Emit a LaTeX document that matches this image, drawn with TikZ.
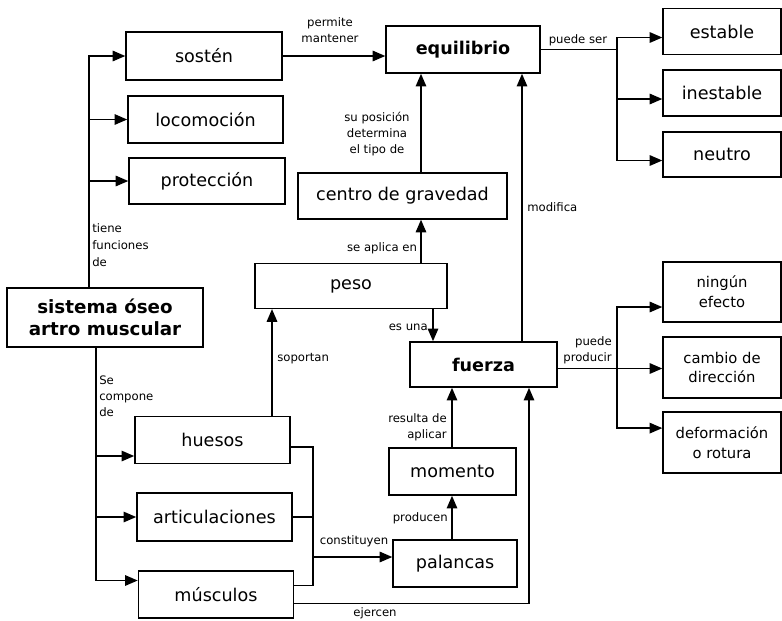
\documentclass[tikz,border=0pt]{standalone}
\usepackage{fontspec}
\setmainfont{DejaVu Sans}
\usetikzlibrary{arrows.meta, positioning}

\begin{document}
\begin{tikzpicture}[x=0.025cm, y=-0.025cm,
  box/.style={draw, line width=1pt, inner sep=0pt, align=center, font=\fontsize{12.5}{15}\selectfont},
  keybox/.style={box, font=\fontsize{12.5}{16}\selectfont\bfseries},
  smallbox/.style={box, font=\fontsize{10.5}{14}\selectfont},
  lbl/.style={font=\fontsize{8.3}{11.5}\selectfont, inner sep=0pt},
  arr/.style={-{Triangle[length=9pt, width=7.5pt]}, line width=1pt},
  link/.style={line width=1pt}]
  \useasboundingbox (0,0) rectangle (782,620);

  % Main concept
  \node[keybox, minimum width=4.9cm, minimum height=1.48cm, font=\fontsize{13}{16}\selectfont\bfseries] (sistema) at (105, 317.5) {sistema óseo\\artro muscular};

  % Functions
  \node[box, minimum width=3.9cm, minimum height=1.2cm] (sosten) at (204, 56) {sostén};
  \node[box, minimum width=3.88cm, minimum height=1.18cm] (locomocion) at (205.5, 119.5) {locomoción};
  \node[box, minimum width=3.9cm, minimum height=1.15cm] (proteccion) at (207, 181) {protección};

  % Components
  \node[box, minimum width=3.88cm, minimum height=1.18cm] (huesos) at (212.5, 440) {huesos};
  \node[box, minimum width=3.88cm, minimum height=1.2cm] (articulaciones) at (214.5, 517) {articulaciones};
  \node[box, minimum width=3.88cm, minimum height=1.18cm] (musculos) at (216, 594.5) {músculos};

  % Physics
  \node[keybox, minimum width=3.85cm, minimum height=1.18cm] (equilibrio) at (463, 49.5) {equilibrio};
  \node[box, minimum width=5.22cm, minimum height=1.15cm] (centro) at (402.5, 196) {centro de gravedad};
  \node[box, minimum width=4.8cm, minimum height=1.12cm] (peso) at (351, 286) {peso};
  \node[keybox, minimum width=3.68cm, minimum height=1.13cm] (fuerza) at (483.5, 364.5) {fuerza};
  \node[box, minimum width=3.18cm, minimum height=1.18cm] (momento) at (452.5, 471.5) {momento};
  \node[box, minimum width=3.1cm, minimum height=1.18cm] (palancas) at (455, 563.5) {palancas};

  % Kinds of balance
  \node[box, minimum width=2.95cm, minimum height=1.16cm] (estable) at (722, 31.5) {estable};
  \node[box, minimum width=2.95cm, minimum height=1.15cm] (inestable) at (722, 93) {inestable};
  \node[box, minimum width=2.95cm, minimum height=1.13cm] (neutro) at (722, 154.5) {neutro};

  % Effects of a force
  \node[smallbox, minimum width=2.95cm, minimum height=1.5cm] (ninguno) at (722, 292) {ningún\\efecto};
  \node[smallbox, minimum width=2.95cm, minimum height=1.52cm] (cambio) at (722, 367.5) {cambio de\\dirección};
  \node[smallbox, minimum width=2.95cm, minimum height=1.52cm] (deformacion) at (722, 442.5) {deformación\\o rotura};

  % tiene funciones de
  \coordinate (fn) at (89, 0);
  \draw[arr] (sistema.north -| fn) |- (sosten.west);
  \draw[arr] (fn |- locomocion.west) -- (locomocion.west);
  \draw[arr] (fn |- proteccion.west) -- (proteccion.west);
  \node[lbl, anchor=west, align=left, font=\fontsize{8.3}{12}\selectfont] (lfun) at (92, 245) {tiene\\funciones\\de};

  % Se compone de
  \coordinate (cp) at (96, 0);
  \coordinate (hue-l) at ([yshift=-0.4cm]huesos.west);
  \coordinate (mus-l) at ([yshift=0.35cm]musculos.west);
  \draw[arr] (sistema.south -| cp) |- (mus-l);
  \draw[arr] (cp |- hue-l) -- (hue-l);
  \draw[arr] (cp |- articulaciones.west) -- (articulaciones.west);
  \node[lbl, anchor=west, align=left] (lcomp) at (99, 396) {Se\\compone\\de};

  % constituyen
  \coordinate (jc) at (313, 557);
  \coordinate (hue-r) at ([yshift=-0.175cm]huesos.east);
  \coordinate (mus-r) at ([yshift=0.225cm]musculos.east);
  \draw[link] (hue-r) -| (jc |- mus-r) -- (mus-r);
  \draw[link] (articulaciones.east) -- (articulaciones.east -| jc);
  \draw[arr] (jc) -- (jc -| palancas.west);
  \node[lbl] (lcons) at (354, 541) {constituyen};

  % ejercen
  \coordinate (ej) at (529, 0);
  \coordinate (mus-e) at ([yshift=-0.225cm]musculos.east);
  \draw[arr] (mus-e) -| (ej |- fuerza.south);
  \node[lbl] (lejer) at (375, 613) {ejercen};

  % soportan
  \coordinate (sp) at (272, 0);
  \draw[arr] (huesos.north -| sp) -- (peso.south -| sp);
  \node[lbl, anchor=west] (lsop) at (277, 359) {soportan};

  % permite mantener
  \draw[arr] (sosten.east) -- (sosten.east -| equilibrio.west);
  \node[lbl, align=center] (lperm) at (330, 30) {permite\\mantener};

  % centro de gravedad / peso
  \coordinate (ap) at (421, 0);
  \draw[arr] (centro.north -| ap) -- (equilibrio.south -| ap);
  \node[lbl, align=center] (lpos) at (377, 134) {su posición\\determina\\el tipo de};
  \draw[arr] (peso.north -| ap) -- (centro.south -| ap);
  \node[lbl] (lapl) at (382, 248) {se aplica en};

  % es una
  \coordinate (eu) at (433, 0);
  \draw[arr] (peso.south -| eu) -- (fuerza.north -| eu);
  \node[lbl, anchor=east] (lesu) at (428, 327) {es una};

  % modifica
  \coordinate (md) at (522, 0);
  \draw[arr] (fuerza.north -| md) -- (equilibrio.south -| md);
  \node[lbl, anchor=west] (lmod) at (527, 207) {modifica};

  % momento / palancas
  \coordinate (mf) at (452, 0);
  \draw[arr] (momento.north -| mf) -- (fuerza.south -| mf);
  \node[lbl, anchor=east, align=right] (lres) at (447, 427) {resulta de\\aplicar};
  \draw[arr] (palancas.north -| mf) -- (momento.south -| mf);
  \node[lbl, anchor=east] (lprod) at (448, 518) {producen};

  % puede ser
  \coordinate (ps) at (617, 0);
  \coordinate (est-l) at ([yshift=-0.15cm]estable.west);
  \coordinate (ine-l) at ([yshift=-0.15cm]inestable.west);
  \coordinate (neu-l) at ([yshift=-0.15cm]neutro.west);
  \draw[arr] (equilibrio.east) -| (ps |- est-l) -- (est-l);
  \draw[arr] (equilibrio.east -| ps) |- (neu-l);
  \draw[arr] (ps |- ine-l) -- (ine-l);
  \node[lbl] (lser) at (578, 40) {puede ser};

  % puede producir
  \coordinate (pp) at (617, 0);
  \coordinate (fu-r) at ([yshift=-0.1cm]fuerza.east);
  \coordinate (nin-l) at ([yshift=-0.375cm]ninguno.west);
  \coordinate (def-l) at ([yshift=0.36cm]deformacion.west);
  \draw[arr] (fu-r) -- (fu-r -| cambio.west);
  \draw[arr] (fu-r -| pp) |- (nin-l);
  \draw[arr] (fu-r -| pp) |- (def-l);
  \node[lbl, anchor=east, align=right] (lprd) at (612, 350) {puede\\producir};
\end{tikzpicture}
\end{document}
